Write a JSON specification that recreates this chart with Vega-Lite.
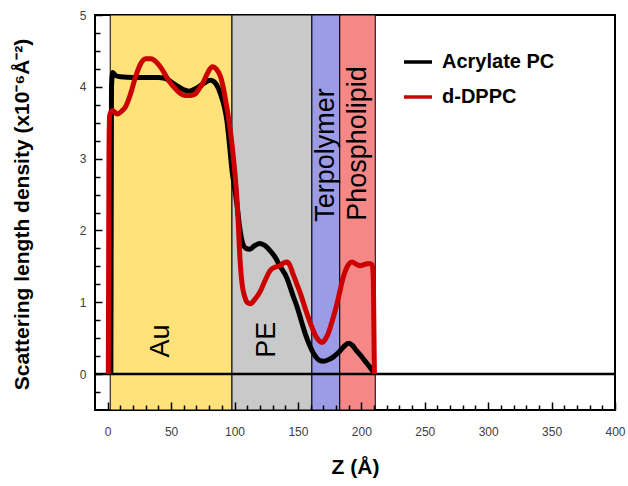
{
  "$schema": "https://vega.github.io/schema/vega-lite/v6.json",
  "width": 520,
  "height": 395,
  "autosize": {"type": "none"},
  "padding": {"left": 95, "top": 15, "right": 13, "bottom": 76},
  "background": "white",
  "config": {
    "view": {"stroke": "black", "strokeWidth": 2},
    "font": "Liberation Sans"
  },
  "datasets": {
    "regions": [
      {"region": "Au", "z0": 2, "z1": 98},
      {"region": "PE", "z0": 98, "z1": 161},
      {"region": "Terpolymer", "z0": 161, "z1": 183},
      {"region": "Phospholipid", "z0": 183, "z1": 211}
    ],
    "labels": [
      {"label": "Au", "z": 42, "v": 0.46},
      {"label": "PE", "z": 126, "v": 0.48},
      {"label": "Terpolymer", "z": 172, "v": 3.05},
      {"label": "Phospholipid", "z": 197, "v": 3.21}
    ],
    "profiles": [
      {"series": "Acrylate PC", "z": 2.5, "sld": 0},
      {"series": "Acrylate PC", "z": 3, "sld": 4.0},
      {"series": "Acrylate PC", "z": 4, "sld": 4.2},
      {"series": "Acrylate PC", "z": 6, "sld": 4.16},
      {"series": "Acrylate PC", "z": 10, "sld": 4.14},
      {"series": "Acrylate PC", "z": 20, "sld": 4.13},
      {"series": "Acrylate PC", "z": 30, "sld": 4.13},
      {"series": "Acrylate PC", "z": 40, "sld": 4.13},
      {"series": "Acrylate PC", "z": 45, "sld": 4.12},
      {"series": "Acrylate PC", "z": 50, "sld": 4.07},
      {"series": "Acrylate PC", "z": 55, "sld": 4.01},
      {"series": "Acrylate PC", "z": 60, "sld": 3.96},
      {"series": "Acrylate PC", "z": 64, "sld": 3.94},
      {"series": "Acrylate PC", "z": 70, "sld": 3.98},
      {"series": "Acrylate PC", "z": 75, "sld": 4.04},
      {"series": "Acrylate PC", "z": 81, "sld": 4.09},
      {"series": "Acrylate PC", "z": 85, "sld": 4.05},
      {"series": "Acrylate PC", "z": 89, "sld": 3.9},
      {"series": "Acrylate PC", "z": 92, "sld": 3.72},
      {"series": "Acrylate PC", "z": 94, "sld": 3.53},
      {"series": "Acrylate PC", "z": 96, "sld": 3.2},
      {"series": "Acrylate PC", "z": 98, "sld": 2.84},
      {"series": "Acrylate PC", "z": 100, "sld": 2.6},
      {"series": "Acrylate PC", "z": 102, "sld": 2.35},
      {"series": "Acrylate PC", "z": 104, "sld": 2.05},
      {"series": "Acrylate PC", "z": 106, "sld": 1.85},
      {"series": "Acrylate PC", "z": 109, "sld": 1.75},
      {"series": "Acrylate PC", "z": 112, "sld": 1.74},
      {"series": "Acrylate PC", "z": 116, "sld": 1.79},
      {"series": "Acrylate PC", "z": 120, "sld": 1.82},
      {"series": "Acrylate PC", "z": 124, "sld": 1.79},
      {"series": "Acrylate PC", "z": 128, "sld": 1.72},
      {"series": "Acrylate PC", "z": 132, "sld": 1.63},
      {"series": "Acrylate PC", "z": 136, "sld": 1.5},
      {"series": "Acrylate PC", "z": 141, "sld": 1.35},
      {"series": "Acrylate PC", "z": 146, "sld": 1.1},
      {"series": "Acrylate PC", "z": 150, "sld": 0.9},
      {"series": "Acrylate PC", "z": 153, "sld": 0.72},
      {"series": "Acrylate PC", "z": 156, "sld": 0.55},
      {"series": "Acrylate PC", "z": 160, "sld": 0.37},
      {"series": "Acrylate PC", "z": 164, "sld": 0.24},
      {"series": "Acrylate PC", "z": 167, "sld": 0.19},
      {"series": "Acrylate PC", "z": 170, "sld": 0.18},
      {"series": "Acrylate PC", "z": 174, "sld": 0.2},
      {"series": "Acrylate PC", "z": 178, "sld": 0.24},
      {"series": "Acrylate PC", "z": 182, "sld": 0.3},
      {"series": "Acrylate PC", "z": 186, "sld": 0.38},
      {"series": "Acrylate PC", "z": 190, "sld": 0.43},
      {"series": "Acrylate PC", "z": 193, "sld": 0.4},
      {"series": "Acrylate PC", "z": 196, "sld": 0.33},
      {"series": "Acrylate PC", "z": 199, "sld": 0.27},
      {"series": "Acrylate PC", "z": 203, "sld": 0.18},
      {"series": "Acrylate PC", "z": 207, "sld": 0.09},
      {"series": "Acrylate PC", "z": 210, "sld": 0.02},
      {"series": "d-DPPC", "z": 0.5, "sld": 0},
      {"series": "d-DPPC", "z": 1, "sld": 3.0},
      {"series": "d-DPPC", "z": 1.5, "sld": 3.6},
      {"series": "d-DPPC", "z": 3.7, "sld": 3.67},
      {"series": "d-DPPC", "z": 7.6, "sld": 3.62},
      {"series": "d-DPPC", "z": 11, "sld": 3.66},
      {"series": "d-DPPC", "z": 14, "sld": 3.72},
      {"series": "d-DPPC", "z": 18, "sld": 3.9},
      {"series": "d-DPPC", "z": 22, "sld": 4.14},
      {"series": "d-DPPC", "z": 26, "sld": 4.32},
      {"series": "d-DPPC", "z": 30, "sld": 4.39},
      {"series": "d-DPPC", "z": 34, "sld": 4.39},
      {"series": "d-DPPC", "z": 38, "sld": 4.35},
      {"series": "d-DPPC", "z": 43, "sld": 4.24},
      {"series": "d-DPPC", "z": 48, "sld": 4.09},
      {"series": "d-DPPC", "z": 53, "sld": 3.98},
      {"series": "d-DPPC", "z": 57, "sld": 3.91},
      {"series": "d-DPPC", "z": 61, "sld": 3.88},
      {"series": "d-DPPC", "z": 65, "sld": 3.88},
      {"series": "d-DPPC", "z": 69, "sld": 3.9},
      {"series": "d-DPPC", "z": 72, "sld": 3.97},
      {"series": "d-DPPC", "z": 75, "sld": 4.05},
      {"series": "d-DPPC", "z": 79, "sld": 4.2},
      {"series": "d-DPPC", "z": 82.5, "sld": 4.28},
      {"series": "d-DPPC", "z": 86, "sld": 4.24},
      {"series": "d-DPPC", "z": 89, "sld": 4.14},
      {"series": "d-DPPC", "z": 91, "sld": 4.0},
      {"series": "d-DPPC", "z": 93, "sld": 3.81},
      {"series": "d-DPPC", "z": 95, "sld": 3.6},
      {"series": "d-DPPC", "z": 97, "sld": 3.35},
      {"series": "d-DPPC", "z": 99.5, "sld": 2.95},
      {"series": "d-DPPC", "z": 102, "sld": 2.42},
      {"series": "d-DPPC", "z": 104.7, "sld": 1.5},
      {"series": "d-DPPC", "z": 106, "sld": 1.25},
      {"series": "d-DPPC", "z": 108, "sld": 1.08},
      {"series": "d-DPPC", "z": 110, "sld": 1.0},
      {"series": "d-DPPC", "z": 112.6, "sld": 0.98},
      {"series": "d-DPPC", "z": 116, "sld": 1.04},
      {"series": "d-DPPC", "z": 120.5, "sld": 1.16},
      {"series": "d-DPPC", "z": 124, "sld": 1.3},
      {"series": "d-DPPC", "z": 128, "sld": 1.44},
      {"series": "d-DPPC", "z": 132, "sld": 1.49},
      {"series": "d-DPPC", "z": 136, "sld": 1.51},
      {"series": "d-DPPC", "z": 139, "sld": 1.55},
      {"series": "d-DPPC", "z": 141.5, "sld": 1.56},
      {"series": "d-DPPC", "z": 143.5, "sld": 1.52},
      {"series": "d-DPPC", "z": 146, "sld": 1.4},
      {"series": "d-DPPC", "z": 149, "sld": 1.26},
      {"series": "d-DPPC", "z": 152, "sld": 1.12},
      {"series": "d-DPPC", "z": 156, "sld": 0.9},
      {"series": "d-DPPC", "z": 160, "sld": 0.7},
      {"series": "d-DPPC", "z": 164, "sld": 0.53},
      {"series": "d-DPPC", "z": 167, "sld": 0.46},
      {"series": "d-DPPC", "z": 169, "sld": 0.44},
      {"series": "d-DPPC", "z": 171, "sld": 0.47},
      {"series": "d-DPPC", "z": 173.5, "sld": 0.55},
      {"series": "d-DPPC", "z": 176, "sld": 0.68},
      {"series": "d-DPPC", "z": 179, "sld": 0.86},
      {"series": "d-DPPC", "z": 182, "sld": 1.07},
      {"series": "d-DPPC", "z": 185, "sld": 1.3},
      {"series": "d-DPPC", "z": 187.5, "sld": 1.44},
      {"series": "d-DPPC", "z": 190, "sld": 1.53},
      {"series": "d-DPPC", "z": 192.7, "sld": 1.56},
      {"series": "d-DPPC", "z": 196, "sld": 1.53},
      {"series": "d-DPPC", "z": 199, "sld": 1.51},
      {"series": "d-DPPC", "z": 203, "sld": 1.53},
      {"series": "d-DPPC", "z": 206, "sld": 1.54},
      {"series": "d-DPPC", "z": 208.5, "sld": 1.52},
      {"series": "d-DPPC", "z": 209.5, "sld": 1.3},
      {"series": "d-DPPC", "z": 210.3, "sld": 0}
    ]
  },
  "layer": [
    {
      "data": {"name": "regions"},
      "mark": {"type": "rect", "stroke": "black", "strokeWidth": 1},
      "encoding": {
        "x": {
          "field": "z0",
          "type": "quantitative",
          "scale": {"domain": [-10, 400], "nice": false, "zero": false},
          "axis": {
            "title": "Z (Å)",
            "values": [0,10,20,30,40,50,60,70,80,90,100,110,120,130,140,150,160,170,180,190,200,210,220,230,240,250,260,270,280,290,300,310,320,330,340,350,360,370,380,390,400],
            "tickCount": 200,
            "labelExpr": "datum.value % 50 === 0 ? '' + datum.value : ''",
            "labelOverlap": false,
            "tickSize": {"condition": {"test": "datum.value % 50 === 0", "value": -8}, "value": -5},
            "tickColor": "black",
            "tickWidth": 1.5,
            "zindex": 1,
            "domain": false,
            "grid": false,
            "labelFont": "Liberation Sans",
            "labelFontSize": 12,
            "labelColor": "#404040",
            "labelPadding": 24,
            "labelFlush": false,
            "titleFont": "Liberation Sans",
            "titleFontSize": 21,
            "titleFontWeight": "bold",
            "titleColor": "black",
            "titleX": 260,
            "titleY": 57,
            "titleAlign": "center",
            "titleBaseline": "middle"
          }
        },
        "x2": {"field": "z1"},
        "fill": {
          "field": "region",
          "type": "nominal",
          "scale": {"domain": ["Au", "PE", "Terpolymer", "Phospholipid"], "range": ["#FFE27A", "#C9C9C9", "#9B9BE6", "#F58787"]},
          "legend": null
        }
      }
    },
    {
      "data": {"values": [{}]},
      "mark": {"type": "rule", "color": "black", "strokeWidth": 2.5},
      "encoding": {"y": {"datum": 0, "type": "quantitative"}}
    },
    {
      "data": {"name": "profiles"},
      "mark": {"type": "line", "strokeWidth": 5, "interpolate": "monotone"},
      "encoding": {
        "x": {"field": "z", "type": "quantitative"},
        "y": {
          "field": "sld",
          "type": "quantitative",
          "scale": {"domain": [-0.5, 5], "nice": false, "zero": false},
          "axis": {
            "title": "Scattering length density (x10⁻⁶Å⁻²)",
            "values": [-0.25,0,0.25,0.5,0.75,1,1.25,1.5,1.75,2,2.25,2.5,2.75,3,3.25,3.5,3.75,4,4.25,4.5,4.75,5],
            "tickCount": 200,
            "labelExpr": "datum.value % 1 === 0 ? '' + datum.value : ''",
            "labelOverlap": false,
            "tickSize": {"condition": {"test": "datum.value % 1 === 0", "value": -7}, "value": -5},
            "tickColor": "black",
            "tickWidth": 1.5,
            "zindex": 1,
            "domain": false,
            "grid": false,
            "labelFont": "Liberation Sans",
            "labelFontSize": 12,
            "labelColor": "#404040",
            "labelPadding": 16,
            "labelFlush": false,
            "titleFont": "Liberation Sans",
            "titleFontSize": 21,
            "titleFontWeight": "bold",
            "titleColor": "black",
            "titleX": -73,
            "titleY": 199,
            "titleAngle": 270,
            "titleAlign": "center",
            "titleBaseline": "middle"
          }
        },
        "stroke": {
          "field": "series",
          "type": "nominal",
          "scale": {"domain": ["Acrylate PC", "d-DPPC"], "range": ["#000000", "#CC0000"]},
          "legend": {
            "title": null,
            "orient": "none",
            "legendX": 307,
            "legendY": 31,
            "symbolType": "stroke",
            "symbolSize": 784,
            "symbolStrokeWidth": 3.5,
            "labelFont": "Liberation Sans",
            "labelFontSize": 20,
            "labelFontWeight": "bold",
            "labelColor": "black",
            "labelOffset": 8,
            "rowPadding": 9,
            "padding": 0
          }
        }
      }
    },
    {
      "data": {"name": "labels"},
      "mark": {"type": "text", "angle": 270, "fontSize": 27, "font": "Liberation Sans", "align": "center", "baseline": "middle", "color": "black"},
      "encoding": {
        "x": {"field": "z", "type": "quantitative"},
        "y": {"field": "v", "type": "quantitative"},
        "text": {"field": "label"}
      }
    }
  ]
}
